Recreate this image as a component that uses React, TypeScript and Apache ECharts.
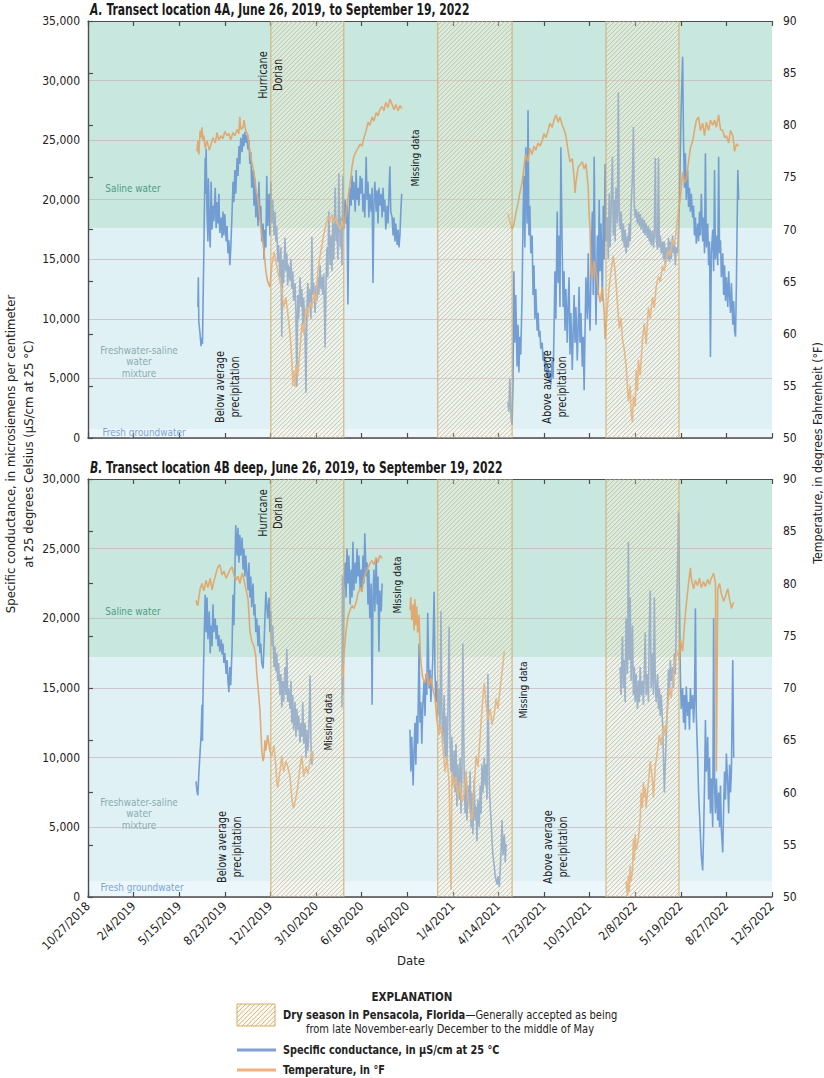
import React, { useEffect, useRef } from "react";
import * as echarts from "echarts";

// ---------- data (x = days since 10/27/2018) ----------
const DAY0 = Date.UTC(2018, 9, 27);
const xMin = 0;
const xMax = 1500;
const xStep = 100;

const drySeasons: [number, number][] = [
  [401, 561],
  [767, 930],
  [1136, 1296],
];

// water-type bands, specific conductance limits (µS/cm)
const bandsA: [number, number, number][] = [
  [17600, 35000, 0],
  [750, 17600, 1],
  [0, 750, 2],
];
const bandsB: [number, number, number][] = [
  [17200, 30000, 0],
  [1100, 17200, 1],
  [0, 1100, 2],
];

// Panel A specific conductance
const scA1: [number, number][] = [[241,11000],[242,13500],[243,9800],[246,8600],[248,7700],[250,8400],[251,7900],[252,10500],[253,13000],[254,15500],[255,18500],[257,23500],[258,20500],[259,24300],[261,19000],[263,16500],[264,21800],[266,18000],[268,16000],[270,21500],[272,17500],[274,19500],[276,18200],[279,21000],[281,17600],[283,19800],[285,18000],[287,20500],[289,17200],[292,18500],[294,16800],[296,19000],[298,17000],[300,18800],[303,16500],[305,17800],[307,15500],[309,16600],[311,14500],[313,15800],[316,19000],[318,21500],[320,19800],[322,22500],[324,20500],[327,23500],[329,22000],[331,24500],[333,23000],[335,25200],[338,24000],[340,25500],[342,24500],[344,25700],[346,24800],[348,25400],[351,24200],[353,25000],[355,23000],[357,24000],[359,21000],[362,22500],[364,19500],[366,21800],[368,18500],[370,20500],[373,17800],[375,21500],[377,18300],[379,19500],[381,16500],[384,18000],[386,15000],[388,17500],[390,16000],[392,22000],[394,17800],[397,20500],[399,17000],[401,21500],[403,18000],[405,20000],[408,17000],[410,19000],[412,16500],[414,17800],[416,14800],[418,16200],[421,13500],[423,16000],[425,8500],[427,15000],[429,13000],[432,16800],[434,14000],[436,15500],[438,12800],[440,14500],[443,13200],[445,15000],[447,12500],[449,14000],[451,11500],[454,13000],[456,10500],[458,4300],[460,12000],[462,10000],[465,13500],[467,11000],[469,12500],[471,9500],[473,11800],[476,8500],[478,3800],[480,10500],[482,13000],[484,11000],[487,12500],[489,10000],[491,16900],[493,12000],[495,13000],[498,10500],[500,12800],[502,11500],[504,13500],[506,12000],[509,14500],[511,12500],[513,13500],[515,12000],[517,13800],[520,7600],[522,13000],[524,16000],[526,13500],[528,19000],[531,14500],[533,17000],[535,14000],[537,18500],[539,15000],[542,21000],[544,16500],[546,18000],[548,15000],[550,22200],[553,16000],[555,18500],[557,14500],[559,22000],[561,17500],[564,20000],[566,18000],[568,19500],[570,11200],[572,18500],[575,21000],[577,19500],[579,22000],[581,20000],[583,21500],[586,19000],[588,22500],[590,20000],[592,21000],[594,19500],[597,22000],[599,20500],[601,21800],[603,19000],[605,20500],[607,18500],[610,23600],[612,20000],[614,21500],[616,18500],[618,20500],[621,19000],[623,21000],[625,13000],[627,19500],[629,21500],[632,19000],[634,20800],[636,18000],[638,21000],[640,19500],[643,20500],[645,18500],[647,21000],[649,19000],[651,20000],[653,17500],[656,19500],[658,18000],[660,20500],[662,22800],[664,19000],[667,18500],[669,17000],[671,18500],[673,16500],[675,18000],[678,16200],[680,17500],[682,16000],[684,17000],[686,19000],[688,20500]];
const scA2: [number, number][] = [[921,3000],[923,2200],[925,5000],[928,1500],[930,1100],[932,4500],[934,14000],[936,8000],[938,12000],[941,6000],[943,9500],[945,5500],[947,8500],[949,7000],[952,12000],[954,18500],[956,22000],[958,16000],[960,24400],[963,18000],[965,27500],[967,17000],[969,19500],[971,15500],[974,17000],[976,12000],[978,14500],[980,10000],[982,12500],[985,9000],[987,10500],[989,8500],[991,9000],[993,7500],[996,8000],[998,6500],[1000,7200],[1002,5800],[1004,6500],[1007,5200],[1009,6000],[1011,4800],[1013,5500],[1015,4500],[1018,6500],[1020,5000],[1022,9000],[1024,14000],[1026,10000],[1029,19000],[1031,13000],[1033,17000],[1035,11000],[1037,24400],[1040,15500],[1042,11000],[1044,14000],[1046,9000],[1048,12500],[1051,8000],[1053,11500],[1055,13500],[1057,7000],[1059,10500],[1062,5700],[1064,9000],[1066,12000],[1068,8000],[1070,11000],[1073,6500],[1075,9500],[1077,12700],[1079,8000],[1081,10500],[1084,6000],[1086,8500],[1088,4000],[1090,9000],[1092,13500],[1095,10000],[1097,15500],[1099,11000],[1101,9000],[1103,14000],[1106,19000],[1108,12000],[1110,23600],[1112,15000],[1114,9500],[1117,17000],[1119,12000],[1121,20000],[1123,14000],[1125,18000],[1128,11500],[1130,19500],[1132,15000],[1134,23000],[1136,16500],[1139,18500],[1141,15000],[1143,20500],[1145,16000],[1147,19000],[1150,23600],[1152,17000],[1154,20000],[1156,16500],[1158,21000],[1161,18000],[1163,29000],[1165,19000],[1167,17500],[1169,19000],[1172,16500],[1174,18000],[1176,16000],[1178,17500],[1180,15500],[1183,17000],[1185,16000],[1187,18000],[1189,16500],[1191,19500],[1194,22000],[1196,26100],[1198,19500],[1200,18500],[1202,19200],[1205,18000],[1207,19000],[1209,17800],[1211,18800],[1213,17500],[1216,18500],[1218,17200],[1220,18300],[1222,17000],[1224,18000],[1227,16800],[1229,17800],[1231,16500],[1233,17500],[1235,16200],[1238,17400],[1240,16000],[1242,17000],[1244,23500],[1246,16800],[1249,15800],[1251,23500],[1253,16000],[1255,17000],[1257,15500],[1260,16500],[1262,15000],[1264,16500],[1266,14500],[1268,16000],[1271,15000],[1273,16800],[1275,14800],[1277,16500],[1279,15000],[1282,17000],[1284,15500],[1286,16500],[1288,14500],[1290,16000],[1293,15500],[1295,17500],[1297,20000],[1299,24000],[1301,28000],[1304,32000],[1306,25000],[1308,21000],[1310,23900],[1312,20000],[1315,22500],[1317,19400],[1319,21000],[1321,19000],[1323,20500],[1326,18500],[1328,19500],[1330,17000],[1332,18500],[1334,16300],[1337,18000],[1339,16500],[1341,19000],[1343,17000],[1345,20500],[1348,16500],[1350,18500],[1352,15500],[1354,23900],[1356,16000],[1359,18000],[1361,14500],[1363,16500],[1365,6800],[1367,15500],[1370,17500],[1372,14000],[1374,22500],[1376,15000],[1378,17000],[1381,14500],[1383,23600],[1385,15500],[1387,16600],[1389,13500],[1392,15500],[1394,12000],[1396,14500],[1398,11500],[1400,13500],[1403,11000],[1405,14000],[1407,12000],[1409,10500],[1411,13000],[1414,9500],[1416,11500],[1418,9000],[1420,8500],[1422,13000],[1425,22500],[1427,20000]];

// Panel A temperature (°F)
const tA1: [number, number][] = [[239,77.5],[241,78.5],[243,77.2],[246,79.5],[248,78.8],[250,79.8],[252,78.5],[254,79.0],[257,77.8],[261,78.5],[266,77.6],[270,78.2],[274,78.8],[279,78.3],[283,79.3],[287,78.6],[292,79.0],[296,78.7],[300,79.4],[305,79.0],[309,79.2],[313,78.6],[318,79.3],[322,79.0],[327,79.6],[331,79.2],[333,80.8],[335,79.6],[340,79.8],[342,80.5],[346,79.5],[351,79.0],[355,77.5],[359,76.5],[364,75.5],[368,74.0],[373,72.8],[377,71.0],[381,69.5],[386,68.0],[390,66.0],[394,65.0],[399,64.5],[403,66.5],[408,67.8],[412,67.0],[416,66.0],[421,65.0],[425,64.2],[429,62.5],[434,63.5],[438,62.0],[443,60.0],[447,57.5],[449,55.0],[451,56.5],[454,54.9],[456,57.0],[460,56.0],[465,58.5],[469,61.0],[473,60.0],[478,62.5],[482,61.5],[487,63.0],[491,62.5],[495,64.0],[500,63.0],[504,66.0],[509,67.5],[513,68.5],[517,69.5],[522,70.5],[526,71.2],[531,70.8],[535,71.5],[539,70.6],[544,71.2],[548,70.5],[553,70.0],[557,70.8],[561,70.2],[566,71.5],[570,73.0],[575,74.5],[579,76.0],[583,77.0],[588,77.5],[592,77.8],[597,78.2],[601,78.0],[605,78.8],[610,79.5],[614,80.3],[618,80.0],[623,80.8],[627,80.4],[632,81.2],[636,80.9],[640,81.5],[645,81.8],[649,81.4],[653,82.2],[658,81.7],[662,82.5],[667,82.0],[671,81.5],[675,82.0],[680,81.4],[684,81.9],[688,81.6]];
const tA2: [number, number][] = [[921,71.5],[925,70.8],[930,70.0],[934,70.5],[938,71.5],[943,72.5],[947,73.5],[952,74.5],[956,76.0],[960,77.2],[965,76.5],[969,77.8],[974,77.2],[978,78.0],[982,77.6],[987,78.3],[991,78.0],[996,78.5],[1000,79.2],[1004,78.8],[1009,79.5],[1013,80.2],[1018,79.8],[1022,80.5],[1026,81.0],[1031,80.3],[1035,80.8],[1040,80.0],[1044,79.6],[1048,79.0],[1053,77.5],[1057,76.5],[1062,76.8],[1066,75.0],[1068,73.5],[1070,74.5],[1075,76.0],[1079,76.2],[1084,76.5],[1088,75.8],[1092,76.3],[1097,74.0],[1099,71.5],[1101,70.0],[1103,66.0],[1106,65.2],[1110,67.0],[1114,66.0],[1119,64.0],[1123,63.0],[1128,64.5],[1132,62.0],[1134,59.5],[1139,62.5],[1143,64.5],[1147,66.0],[1152,67.5],[1156,66.0],[1161,63.0],[1165,60.5],[1169,61.5],[1172,59.5],[1176,58.5],[1180,57.0],[1185,53.5],[1189,55.0],[1191,52.5],[1194,51.5],[1196,54.0],[1200,53.0],[1202,56.5],[1205,54.5],[1207,57.5],[1211,56.0],[1216,59.5],[1220,61.0],[1224,59.0],[1229,62.5],[1233,61.5],[1238,63.5],[1242,62.5],[1246,64.5],[1251,65.5],[1255,65.0],[1260,66.5],[1264,66.0],[1268,67.2],[1273,68.0],[1277,67.5],[1282,69.0],[1286,68.5],[1290,70.0],[1295,72.0],[1299,73.0],[1304,75.5],[1308,74.5],[1312,74.8],[1317,76.5],[1321,77.8],[1326,78.5],[1330,79.5],[1334,80.5],[1339,80.8],[1343,79.5],[1348,80.2],[1352,79.0],[1356,80.3],[1361,79.5],[1365,80.5],[1370,80.0],[1374,80.5],[1378,79.8],[1383,81.0],[1387,79.6],[1392,79.5],[1396,78.8],[1400,79.0],[1405,78.3],[1409,79.5],[1414,79.0],[1418,77.5],[1422,78.2],[1427,78.0]];

// Panel B specific conductance
const scB1: [number, number][] = [[237,8300],[239,7600],[241,7300],[243,8800],[246,10500],[248,11600],[250,13800],[251,11200],[252,14000],[254,17500],[257,21700],[259,19000],[261,21500],[263,18500],[266,20500],[268,17500],[270,19500],[272,18000],[274,21000],[276,19000],[279,20000],[281,18500],[283,19500],[285,18000],[287,18800],[289,17600],[292,18500],[294,17400],[296,18200],[298,16800],[300,17500],[303,16000],[305,17000],[307,15500],[309,14700],[311,16500],[313,15200],[316,18000],[318,21700],[320,19500],[322,23000],[324,26700],[327,24500],[329,26500],[331,24000],[333,26000],[335,24500],[338,25800],[340,23500],[342,25000],[344,23000],[346,24500],[348,23500],[351,22000],[353,24000],[355,21500],[357,23000],[359,20800],[362,22500],[364,20200],[366,21000],[368,19000],[370,20000],[373,18000],[375,19500],[377,17500],[379,18200],[381,16800],[384,16400],[386,18000],[388,20000],[390,21900],[392,21000],[394,20000],[397,21500],[399,19000],[401,20500],[403,18000],[405,19500],[408,16500],[410,18000],[412,16200],[414,17500],[416,15500],[418,16800],[421,14500],[423,16000],[425,13600],[427,15500],[429,14000],[432,16500],[434,14500],[436,17800],[438,14000],[440,15000],[443,13500],[445,15500],[447,12500],[449,14500],[451,12000],[454,14000],[456,11500],[458,13500],[460,12000],[462,13000],[465,11100],[467,12500],[469,11500],[471,14000],[473,11000],[476,12500],[478,10000],[480,12000],[482,10500],[484,11500],[487,15900],[489,11000],[491,9500],[493,10400]];
const scB2: [number, number][] = [[557,13600],[558,23100],[559,14500],[561,22000],[564,24000],[566,21500],[568,25000],[570,22500],[572,24500],[575,21000],[577,23500],[579,21500],[581,25500],[583,22000],[586,24000],[588,22500],[590,25000],[592,23000],[594,24500],[597,22000],[599,23500],[601,21900],[603,24500],[605,22500],[607,26100],[610,23000],[612,24000],[614,21000],[616,23500],[618,20000],[621,22500],[623,13800],[625,21500],[627,23500],[629,20500],[632,24300],[634,21000],[636,23000],[638,17600],[640,22000],[643,20500],[645,22500]];
const scB3: [number, number][] = [[706,12000],[708,9000],[710,11500],[713,8000],[715,10500],[717,12500],[719,9500],[721,13000],[723,11000],[726,18200],[728,12500],[730,14000],[732,11000],[734,13500],[737,15500],[739,13000],[741,16000],[743,14500],[745,20400],[748,15000],[750,16300],[752,14000],[754,15500],[756,17000],[759,21900],[761,16000],[763,14000],[765,15500],[767,13000],[770,15000],[772,12000],[774,20500],[776,13500],[778,11000],[781,14500],[783,10000],[785,13000],[787,9500],[789,12500],[792,19400],[794,11000],[796,9000],[798,11500],[800,8000],[803,10500],[805,7500],[807,11000],[809,6500],[811,9500],[814,7000],[816,10000],[818,6000],[820,9000],[822,18200],[825,8500],[827,6000],[829,9000],[831,5500],[833,8000],[836,6500],[838,9000],[840,5000],[842,7500],[844,4500],[847,8500],[849,5500],[851,6500],[853,4000],[855,7000],[858,5000],[860,8000],[862,6000],[864,9500],[866,7500],[869,10000],[871,8000],[873,9500],[875,7000],[877,16000],[880,8000],[882,6500],[884,5500],[886,4000],[888,3000],[891,2200],[893,1500],[895,1200],[897,900],[899,1500],[902,700],[904,2000],[906,3500],[908,5500],[910,3000],[913,4500],[915,2500],[917,3800]];
const scB4: [number, number][] = [[1167,16500],[1169,14500],[1172,18700],[1174,15000],[1176,17000],[1178,14000],[1180,20000],[1183,16000],[1185,25500],[1187,17000],[1189,21500],[1191,15500],[1194,19500],[1196,14500],[1198,16500],[1200,14000],[1202,16000],[1205,13500],[1207,15500],[1209,14000],[1211,16500],[1213,14500],[1216,15500],[1218,13800],[1220,16000],[1222,19000],[1224,14500],[1227,16000],[1229,14000],[1231,19500],[1233,22000],[1235,15000],[1238,17500],[1240,14500],[1242,21500],[1244,15500],[1246,14000],[1249,16000],[1251,13500],[1253,15000],[1255,13000],[1257,14500],[1260,12500],[1262,10000],[1264,7500],[1266,9500],[1268,11500],[1271,14000],[1273,16300],[1275,14500],[1277,17000],[1279,15500],[1282,16500],[1284,15000],[1286,17500],[1288,16000],[1290,19500],[1293,24000],[1295,27600],[1297,21000],[1299,16000],[1301,13500],[1304,15000],[1306,12500],[1308,14500],[1310,12000],[1312,15100],[1315,13000],[1317,14000],[1319,12000],[1321,15000],[1323,13500],[1326,14500],[1328,12500],[1330,14000],[1332,20700],[1334,13000],[1337,10000],[1339,7500],[1341,6000],[1343,4500],[1345,3000],[1348,1900],[1350,4500],[1352,8000],[1354,12700],[1356,9000],[1359,11500],[1361,7000],[1363,10000],[1365,6000],[1367,8500],[1370,5000],[1372,20000],[1374,8000],[1376,6000],[1378,8500],[1381,5500],[1383,7500],[1385,5000],[1387,8000],[1389,4800],[1392,3200],[1394,6500],[1396,9000],[1398,7000],[1400,10300],[1403,8000],[1405,6000],[1407,9500],[1409,7500],[1411,9000],[1414,17000],[1416,10000]];

// Panel B temperature (°F)
const tB1: [number, number][] = [[237,78.4],[239,78.0],[241,77.9],[243,78.6],[246,79.5],[250,80.0],[254,79.3],[259,80.3],[263,79.6],[268,80.5],[272,79.4],[276,80.2],[281,81.0],[285,81.6],[289,81.8],[294,80.8],[298,81.2],[303,80.5],[307,80.9],[311,81.3],[316,81.6],[320,80.8],[324,80.3],[329,80.7],[333,80.0],[338,81.0],[342,80.4],[346,79.5],[351,78.5],[353,77.0],[355,75.5],[359,74.5],[364,74.0],[368,73.0],[370,71.5],[373,70.0],[375,69.0],[377,68.0],[379,66.0],[381,64.0],[384,63.0],[386,63.5],[388,65.0],[390,64.0],[394,65.5],[399,64.0],[403,63.5],[408,64.5],[412,62.5],[414,61.0],[416,60.5],[421,62.0],[425,63.5],[429,62.0],[434,63.0],[438,62.5],[443,61.5],[447,59.5],[449,58.8],[451,58.5],[456,59.5],[460,60.5],[465,62.5],[469,63.5],[473,61.5],[478,62.5],[482,61.8],[487,63.0],[491,64.0],[493,63.0]];
const tB2: [number, number][] = [[557,72.0],[559,71.0],[561,73.0],[564,74.5],[566,75.5],[570,76.8],[575,77.5],[579,77.9],[583,77.6],[588,78.2],[592,79.0],[597,79.6],[601,79.2],[605,80.5],[610,81.0],[614,81.5],[618,81.9],[623,82.2],[627,81.8],[632,82.5],[636,82.0],[640,82.7],[645,82.4]];
const tB3: [number, number][] = [[706,77.5],[708,78.7],[710,76.5],[713,78.0],[715,75.5],[717,78.5],[719,76.0],[721,77.8],[723,75.3],[726,77.0],[728,74.0],[730,72.5],[734,71.0],[739,70.5],[743,71.5],[748,70.2],[752,71.0],[756,70.0],[761,69.0],[765,67.0],[770,65.5],[774,66.5],[778,64.5],[783,62.0],[787,63.5],[792,61.0],[796,50.7],[798,62.0],[803,60.5],[807,61.5],[811,59.5],[816,61.0],[820,59.0],[825,60.0],[829,62.0],[833,59.5],[838,58.0],[842,57.4],[847,60.5],[851,63.5],[855,62.5],[860,65.3],[864,68.0],[869,70.5],[873,68.5],[877,67.0],[882,68.0],[886,66.5],[891,67.5],[895,69.0],[899,68.0],[904,70.0],[908,71.5],[913,73.5]];
const tB4: [number, number][] = [[1180,51.5],[1183,50.0],[1185,52.0],[1187,50.5],[1189,53.0],[1191,51.5],[1194,52.5],[1196,55.5],[1198,53.5],[1200,56.0],[1202,54.5],[1207,55.5],[1211,57.5],[1213,60.0],[1216,58.5],[1218,61.0],[1220,59.5],[1222,60.5],[1224,58.5],[1229,61.0],[1233,63.0],[1238,61.0],[1240,59.5],[1244,62.5],[1249,64.0],[1253,65.5],[1257,64.5],[1262,66.5],[1266,65.5],[1271,68.0],[1275,70.0],[1279,69.0],[1284,71.5],[1288,72.8],[1293,73.5],[1297,72.7],[1299,74.6],[1304,73.5],[1308,76.0],[1312,78.0],[1317,80.0],[1321,81.5],[1323,80.5],[1328,79.5],[1332,80.3],[1337,79.8],[1341,80.5],[1345,79.6],[1350,80.2],[1354,79.7],[1359,80.4],[1363,79.9],[1367,80.5],[1372,81.0],[1376,80.0],[1378,62.0],[1381,79.5],[1385,80.0],[1389,79.0],[1394,78.3],[1398,78.8],[1403,79.5],[1407,78.5],[1411,77.6],[1416,78.2]];

// ---------- styling ----------
const FONT = "'Liberation Sans Narrow', 'DejaVu Sans Condensed', 'Roboto Condensed', Roboto, sans-serif";
const BLUE = "#6d99d2";
const ORANGE = "#e2a56b";
const HATCH = "#d3ad68";
const BAND_COLORS = ["#c8e8df", "#e0f1f6", "#ecf7fc"];

const joinSegs = (...segs: [number, number][][]) => {
  const out: any[] = [];
  segs.forEach((s, i) => {
    if (i > 0) out.push([s[0][0] - 1, "-"]);
    s.forEach((p) => out.push(p));
  });
  return out;
};

const fmtDate = (d: number) => {
  const t = new Date(DAY0 + d * 86400000);
  return `${t.getUTCMonth() + 1}/${t.getUTCDate()}/${t.getUTCFullYear()}`;
};

const hatchPath = (x0: number, y0: number, x1: number, y1: number, step: number) => {
  let d = "";
  for (let c = x0 + y0; c <= x1 + y1; c += step) {
    const ylo = Math.max(y0, c - x1);
    const yhi = Math.min(y1, c - x0);
    if (ylo < yhi) d += `M${c - ylo} ${ylo}L${c - yhi} ${yhi}`;
  }
  return d;
};

const hatchLines = (x0: number, y0: number, x1: number, y1: number, step: number) => {
  const els: any[] = [];
  for (let c = x0 + y0; c <= x1 + y1; c += step) {
    const ylo = Math.max(y0, c - x1);
    const yhi = Math.min(y1, c - x0);
    if (ylo < yhi)
      els.push({ type: "line", shape: { x1: c - ylo, y1: ylo, x2: c - yhi, y2: yhi }, style: { stroke: HATCH, lineWidth: 0.9 } });
  }
  return els;
};

const bandSeries = (data: any, xi: number, yi: number) => ({
  type: "custom",
  xAxisIndex: xi,
  yAxisIndex: yi,
  z: -1,
  silent: true,
  data,
  renderItem: (params: any, api: any) => {
    const cs = params.coordSys;
    const yTop = api.coord([xMin, api.value(1)])[1];
    const yBot = api.coord([xMin, api.value(0)])[1];
    return {
      type: "rect",
      shape: { x: cs.x, y: yTop, width: cs.width, height: yBot - yTop },
      style: { fill: BAND_COLORS[api.value(2)] },
    };
  },
});

const hatchSeries = (xi: number, yi: number) => ({
  type: "custom",
  xAxisIndex: xi,
  yAxisIndex: yi,
  z: 5,
  silent: true,
  data: drySeasons,
  renderItem: (params: any, api: any) => {
    const cs = params.coordSys;
    const xa = api.coord([api.value(0), 0])[0];
    const xb = api.coord([api.value(1), 0])[0];
    const y0 = cs.y;
    const y1 = cs.y + cs.height;
    return {
      type: "group",
      children: [
        { type: "rect", shape: { x: xa, y: y0, width: xb - xa, height: y1 - y0 }, style: { fill: "rgba(255,255,255,0.22)" } },
        { type: "path", shape: { pathData: hatchPath(xa, y0, xb, y1, 4.5) }, style: { fill: "none", stroke: HATCH, lineWidth: 0.85, opacity: 0.9 } },
        { type: "path", shape: { pathData: `M${xa} ${y0}L${xa} ${y1}M${xb} ${y0}L${xb} ${y1}` }, style: { fill: "none", stroke: HATCH, lineWidth: 1 } },
      ],
    };
  },
});

const lineSeries = (data: any, xi: number, yi: number, color: string, z: number) => ({
  type: "line",
  xAxisIndex: xi,
  yAxisIndex: yi,
  data,
  showSymbol: false,
  connectNulls: false,
  z,
  lineStyle: { color, width: 1.6, opacity: 0.95 },
  itemStyle: { color },
});

const xAxisDef = (gi: number, pos: string, labels: boolean) => ({
  type: "value",
  gridIndex: gi,
  position: pos,
  min: xMin,
  max: xMax,
  interval: xStep,
  axisLine: { show: true, lineStyle: { color: "#4d4d4d", width: pos === "bottom" ? 1.6 : 1 } },
  axisTick: { show: true, inside: true, length: 5, lineStyle: { color: "#4d4d4d", width: 1.2 } },
  splitLine: { show: false },
  axisLabel: labels
    ? { show: true, rotate: 45, fontFamily: FONT, fontSize: 12, color: "#222", margin: 7, formatter: (v: number) => fmtDate(v) }
    : { show: false },
});

const scAxis = (gi: number, max: number) => ({
  type: "value",
  gridIndex: gi,
  position: "left",
  min: 0,
  max,
  interval: 5000,
  axisLine: { show: true, lineStyle: { color: "#4d4d4d", width: 1.2 } },
  axisTick: { show: false },
  splitLine: { show: true, lineStyle: { color: "rgba(196,168,176,0.6)", width: 1 } },
  axisLabel: { fontFamily: FONT, fontSize: 12, color: "#222", margin: 8, formatter: (v: number) => v.toLocaleString("en-US") },
});

const tempAxis = (gi: number) => ({
  type: "value",
  gridIndex: gi,
  position: "right",
  min: 50,
  max: 90,
  interval: 5,
  axisLine: { show: true, lineStyle: { color: "#4d4d4d", width: 1.2 } },
  axisTick: { show: false },
  splitLine: { show: false },
  axisLabel: { fontFamily: FONT, fontSize: 12, color: "#222", margin: 11 },
});

const tempTickAxis = (gi: number) => ({
  type: "value",
  gridIndex: gi,
  position: "left",
  min: 50,
  max: 90,
  interval: 5,
  axisLine: { show: false },
  axisTick: { show: true, inside: true, length: 5, lineStyle: { color: "#4d4d4d", width: 1.2 } },
  splitLine: { show: false },
  axisLabel: { show: false },
});

const txt = (x: number, y: number, text: string, opts: any = {}) => ({
  type: "text",
  x,
  y,
  z: 20,
  rotation: opts.rot ? Math.PI / 2 : 0,
  scaleX: opts.sx || 1,
  silent: true,
  style: {
    text,
    fill: opts.color || "#222",
    font: `${opts.weight || "normal"} ${opts.size || 12}px ${FONT}`,
    align: opts.align || "center",
    verticalAlign: "middle",
    lineHeight: opts.lh || 14,
    rich: opts.rich,
  },
});

const titleRich = {
  a: { fontStyle: "italic", fontWeight: "bold", fontSize: 15, fontFamily: FONT, fill: "#1a1a1a" },
  b: { fontWeight: "bold", fontSize: 15, fontFamily: FONT, fill: "#1a1a1a" },
};

export default function App() {
  const ref = useRef<HTMLDivElement>(null);
  useEffect(() => {
    document.body.style.margin = "0";
    const chart = echarts.init(ref.current!, null, { renderer: "svg" });
    const A = { rot: true, lh: 15, sx: 0.9 };
    const M = { rot: true, size: 11, sx: 0.92 };
    const graphics: any[] = [
      // titles
      txt(90, 9, "{a|A.}{b| Transect location 4A, June 26, 2019, to September 19, 2022}", { align: "left", sx: 0.8, rich: titleRich }),
      txt(90, 467, "{a|B.}{b| Transect location 4B deep, June 26, 2019, to September 19, 2022}", { align: "left", sx: 0.8, rich: titleRich }),
      // axis names
      txt(19, 454, "Specific conductance, in microsiemens per centimeter\nat 25 degrees Celsius (µS/cm at 25 °C)", { rot: true, size: 13, lh: 18 }),
      txt(817, 453, "Temperature, in degrees Fahrenheit (°F)", { rot: true, size: 13, sx: 0.95 }),
      txt(411, 960, "Date", { size: 13 }),
      // panel A annotations
      txt(270, 75, "Hurricane\nDorian", A),
      txt(415, 158, "Missing data", M),
      txt(227, 387, "Below average\nprecipitation", A),
      txt(554, 387, "Above average\nprecipitation", A),
      txt(133, 188, "Saline water", { color: "#4f9c80", size: 11, sx: 0.9 }),
      txt(139, 361, "Freshwater-saline\nwater\nmixture", { color: "#8aacae", size: 11, lh: 11.5, sx: 0.9 }),
      txt(144, 432, "Fresh groundwater", { color: "#7da3d5", size: 11, sx: 0.9 }),
      // panel B annotations
      txt(270, 513, "Hurricane\nDorian", A),
      txt(397, 585, "Missing data", M),
      txt(328, 722, "Missing data", M),
      txt(523, 690, "Missing data", M),
      txt(229, 847, "Below average\nprecipitation", A),
      txt(555, 847, "Above average\nprecipitation", A),
      txt(133, 611, "Saline water", { color: "#4f9c80", size: 11, sx: 0.9 }),
      txt(139, 813, "Freshwater-saline\nwater\nmixture", { color: "#8aacae", size: 11, lh: 11.5, sx: 0.9 }),
      txt(142, 887, "Fresh groundwater", { color: "#7da3d5", size: 11, sx: 0.9 }),
      // explanation
      txt(412, 997, "EXPLANATION", { weight: "bold", size: 13, sx: 0.88 }),
      { type: "rect", z: 20, shape: { x: 237, y: 1004, width: 38, height: 22 }, style: { fill: "#fdfaf3", stroke: HATCH, lineWidth: 1 } },
      ...hatchLines(237, 1004, 275, 1026, 4.5).map((e) => ({ ...e, z: 21 })),
      txt(283, 1015, "{b|Dry season in Pensacola, Florida}{r|—Generally accepted as being}", {
        align: "left",
        sx: 0.92,
        rich: { b: { fontWeight: "bold", fontSize: 12, fontFamily: FONT, fill: "#222" }, r: { fontSize: 12, fontFamily: FONT, fill: "#222" } },
      }),
      txt(450, 1029, "from late November-early December to the middle of May", { size: 12, sx: 0.92 }),
      { type: "line", z: 20, shape: { x1: 237, y1: 1050, x2: 276, y2: 1050 }, style: { stroke: "#7ea0d6", lineWidth: 3 } },
      txt(283, 1050, "Specific conductance, in µS/cm at 25 °C", { align: "left", weight: "bold", size: 12, sx: 0.9 }),
      { type: "line", z: 20, shape: { x1: 237, y1: 1070, x2: 276, y2: 1070 }, style: { stroke: "#f2b17d", lineWidth: 3 } },
      txt(283, 1070, "Temperature, in °F", { align: "left", weight: "bold", size: 12, sx: 0.9 }),
    ];

    chart.setOption({
      animation: false,
      backgroundColor: "#ffffff",
      grid: [
        { left: 88, top: 21, width: 684, height: 417 },
        { left: 88, top: 479, width: 684, height: 418 },
      ],
      xAxis: [xAxisDef(0, "bottom", false), xAxisDef(0, "top", false), xAxisDef(1, "bottom", true), xAxisDef(1, "top", false)],
      yAxis: [scAxis(0, 35000), tempAxis(0), tempTickAxis(0), scAxis(1, 30000), tempAxis(1), tempTickAxis(1)],
      series: [
        bandSeries(bandsA, 0, 0),
        bandSeries(bandsB, 2, 3),
        lineSeries(joinSegs(scA1, scA2), 0, 0, BLUE, 2),
        lineSeries(joinSegs(tA1, tA2), 0, 1, ORANGE, 3),
        lineSeries(joinSegs(scB1, scB2, scB3, scB4), 2, 3, BLUE, 2),
        lineSeries(joinSegs(tB1, tB2, tB3, tB4), 2, 4, ORANGE, 3),
        hatchSeries(0, 0),
        hatchSeries(2, 3),
      ],
      graphic: graphics,
    });
    return () => chart.dispose();
  }, []);
  return <div ref={ref} style={{ width: 824, height: 1078 }} />;
}
